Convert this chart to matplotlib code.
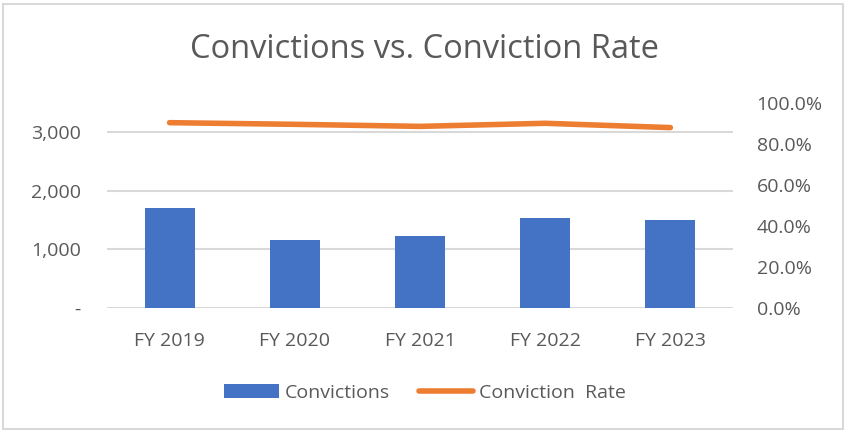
import numpy as np
import matplotlib
matplotlib.use("Agg")
from matplotlib import pyplot as plt
from matplotlib.patches import Patch, Rectangle
from matplotlib.lines import Line2D
from matplotlib.ticker import FuncFormatter

# data
years = ["FY 2019", "FY 2020", "FY 2021", "FY 2022", "FY 2023"]
convictions = [1712, 1169, 1237, 1542, 1502]
conviction_rate = [0.904, 0.896, 0.886, 0.901, 0.880]

left_ticks = [0, 1000, 2000, 3000]
right_ticks = [0.0, 0.2, 0.4, 0.6, 0.8, 1.0]

grey_text = "#595959"
bar_color = "#4472C4"
line_color = "#ED7D31"
grid_color = "#D9D9D9"

plt.rcParams["font.family"] = ["Open Sans", "DejaVu Sans"]

fig = plt.figure(figsize=(8.46, 4.32), dpi=100)
ax = fig.add_axes([107/846, 1 - 308/432, (733 - 107)/846, (308 - 103)/432])
ax2 = ax.twinx()

X = np.arange(len(years))

ax.bar(X, convictions, width=0.4, color=bar_color, zorder=3)
ax.set_xlim(-0.5, len(years) - 0.5)
ax.set_ylim(0, 3500)
ax.set_yticks(left_ticks)
ax.yaxis.set_major_formatter(FuncFormatter(lambda v, p: "-" if v == 0 else f"{int(v):,}"))
ax.set_xticks(X)
ax.set_xticklabels(years)
ax.grid(axis="y", color=grid_color, linewidth=1.5, zorder=0)
ax.tick_params(axis="both", length=0, labelsize=14, colors=grey_text)
ax.tick_params(axis="y", pad=19)
ax.tick_params(axis="x", pad=17)

ax2.plot(X, conviction_rate, color=line_color, linewidth=4, solid_capstyle="round", zorder=4)
ax2.set_ylim(0, 1)
ax2.set_yticks(right_ticks)
ax2.yaxis.set_major_formatter(FuncFormatter(lambda v, p: f"{v*100:.1f}%"))
ax2.tick_params(axis="y", length=0, labelsize=14, colors=grey_text, pad=17)

for a in (ax, ax2):
    for s in a.spines.values():
        s.set_visible(False)

fig.text(0.502, 1 - 49/432, "Convictions vs. Conviction Rate", ha="center", va="center",
         fontsize=23.5, color=grey_text)

handles = [Patch(facecolor=bar_color, edgecolor="none"),
           Line2D([0], [0], color=line_color, linewidth=4, solid_capstyle="round")]
fig.legend(handles, ["Convictions", "Conviction  Rate"], loc="center", ncol=2,
           bbox_to_anchor=(425/846, 1 - 393/432), frameon=False, fontsize=14,
           labelcolor=grey_text, handlelength=2.8, handletextpad=0.3, columnspacing=1.5)

# chart border
fig.patches.append(Rectangle((3/846, 3/432), 840/846, 425/432, transform=fig.transFigure,
                             fill=False, edgecolor=grid_color, linewidth=1.5))

fig.savefig("out.png", dpi=100)
